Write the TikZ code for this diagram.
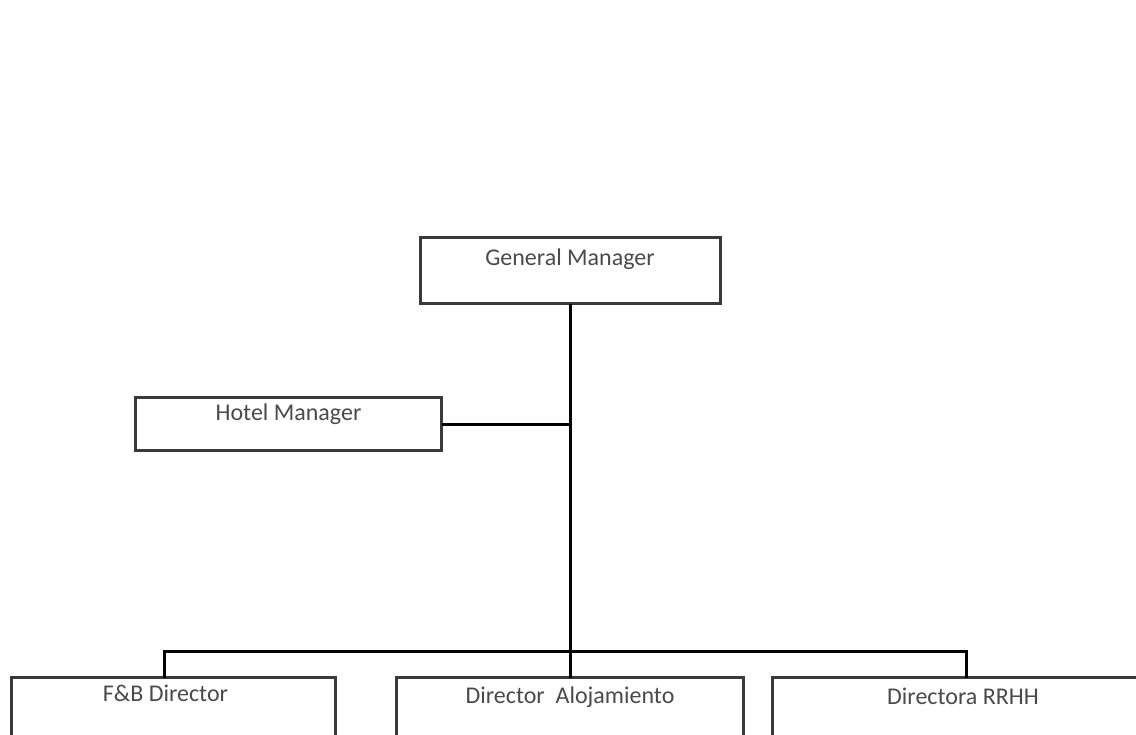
\documentclass[tikz,border=0pt]{standalone}
\usepackage{fontspec}
\setmainfont{Carlito}
\definecolor{boxline}{HTML}{3A3A3A}
\definecolor{txt}{HTML}{4A4A4A}
\begin{document}
\begin{tikzpicture}[x=1pt,y=-1pt,
  box/.style={draw=boxline, line width=3pt, fill=white, rectangle, inner sep=0pt, outer sep=0pt},
  lbl/.style={text=txt, font=\fontsize{24}{28}\selectfont, inner sep=0pt, anchor=north},
  conn/.style={draw=black, line width=3pt}]
\useasboundingbox (0,0) rectangle (1136,735);
\clip (0,0) rectangle (1136,735);
\fill[white] (0,0) rectangle (1136,735);
% boxes (centres)
\node[box, minimum width=300pt, minimum height=66pt,
  label={[lbl, yshift=-11pt]north:General Manager}] (gm) at (570,271) {};
\node[box, minimum width=306pt, minimum height=52pt,
  label={[lbl, yshift=-6pt]north:Hotel Manager}] (hm) at (288.5,424) {};
\node[box, minimum width=324pt, minimum height=100pt,
  label={[lbl, yshift=-7pt, xshift=-8pt]north:F\&B Director}] (fb) at (173.5,727.5) {};
\node[box, minimum width=347pt, minimum height=100pt,
  label={[lbl, yshift=-9pt]north:Director\ \ Alojamiento}] (da) at (570,727.5) {};
\node[box, minimum width=388pt, minimum height=100pt,
  label={[lbl, yshift=-10pt, xshift=-3pt]north:Directora RRHH}] (dr) at (966,727.5) {};
% connector coordinates
\coordinate (hmj) at (570,425);
\coordinate (bus) at (570,651);
\coordinate (busl) at (164,651);
\coordinate (busr) at (966,651);
% connectors
\draw[conn] (gm.south) -- (hmj) -- (bus) -- (da.north);
\draw[conn] (hm.east |- hmj) -- (hmj);
\draw[conn] (busl |- fb.north) -- (busl) -- (busr) -- (busr |- dr.north);
\end{tikzpicture}
\end{document}
